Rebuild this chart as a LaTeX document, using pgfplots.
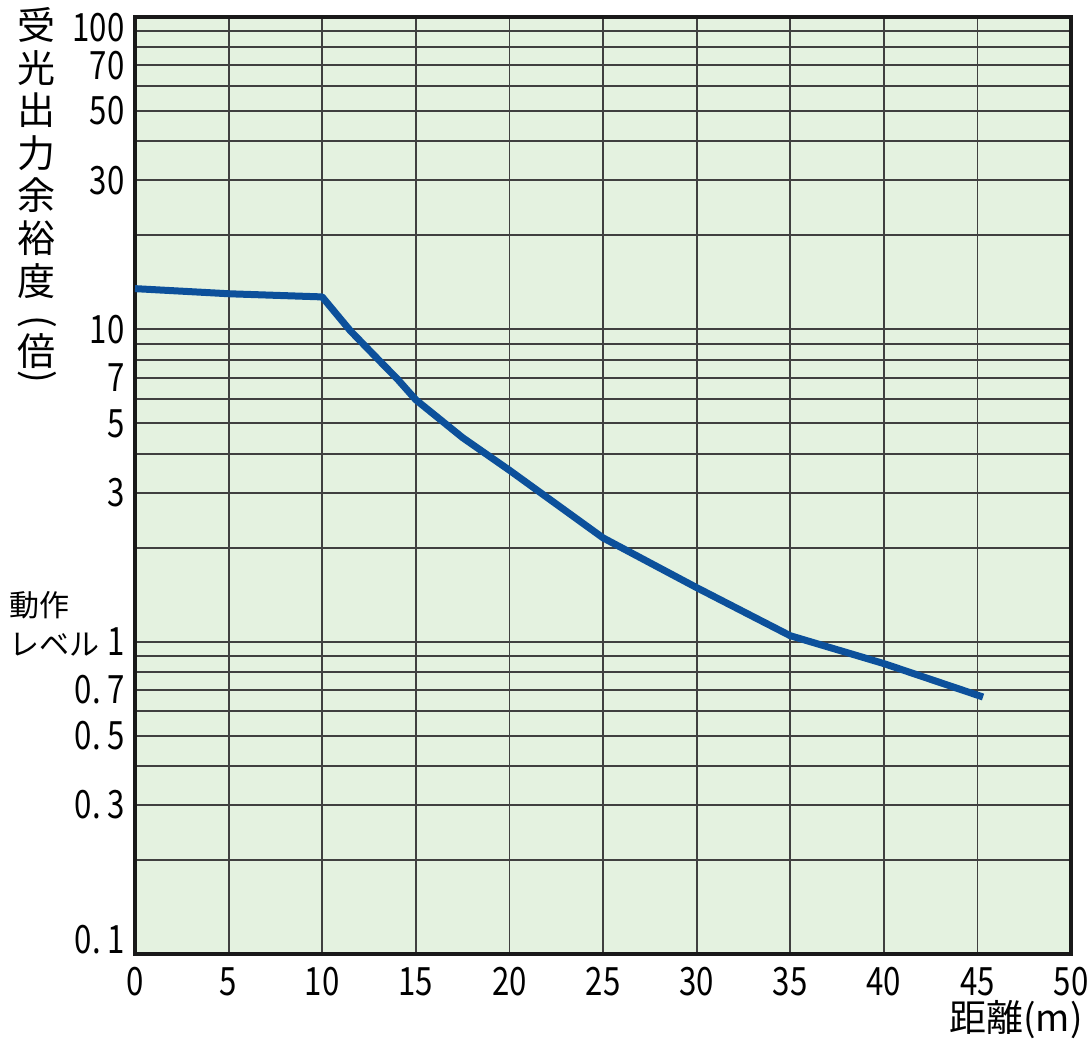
\documentclass[border=0pt]{standalone}
\usepackage{fontspec}
\setmainfont{Noto Sans CJK JP}
\newfontfamily\numfont{Noto Sans CJK JP}[FakeStretch=0.8]
\usepackage{pgfplots}
\pgfplotsset{compat=1.18}
\definecolor{bgg}{RGB}{228,242,224}
\definecolor{curve}{RGB}{12,80,155}
\begin{document}
\begin{tikzpicture}
\begin{axis}[
  name=ax,
  scale only axis, width=468pt, height=468.5pt,
  xmin=0, xmax=50, ymin=0.1, ymax=100, ymode=log,
  xtick={0,5,...,50},
  /pgf/number format/assume math mode=true,
  ytick={0.1,0.3,0.5,0.7,1,3,5,7,10,30,50,70,100},
  yticklabels={{\raisebox{7pt}[\height][\depth]{0.\,1}},{0.\,3},{0.\,5},{0.\,7},{\smash{\rlap{\raisebox{19.5pt}{\normalfont\fontsize{15}{16}\selectfont 動作}}}{\normalfont\fontsize{15}{16}\selectfont レベル}\hspace{4pt}1},3,5,7,10,30,50,70,{\raisebox{-5.5pt}[\height][\depth]{100}}},
  minor ytick={0.2,0.4,0.6,0.8,0.9,2,4,6,8,9,20,40,60,80,90},
  xmajorgrids, ymajorgrids, yminorgrids,
  major grid style={black!75, line width=0.9pt},
  minor grid style={black!75, line width=0.9pt},
  axis line style={black!90, line width=2pt},
  major tick length=0pt, minor tick length=0pt,
  axis background/.style={fill=bgg},
  tick label style={font=\fontsize{19.5}{20}\selectfont\numfont},
  yticklabel style={inner xsep=5pt},
  xticklabel style={inner ysep=6.5pt},
]
\addplot[curve, line width=3.5pt, line join=round, line cap=butt] coordinates {
  (0,13.5) (5,13.0) (10,12.7) (11.5,9.9) (13,8.0) (14,6.95) (15,5.95)
  (17.5,4.5) (20,3.54) (25,2.15) (30,1.49) (35,1.045) (40,0.851) (45.3,0.665)
};
\end{axis}
\node[anchor=north, inner sep=0pt, align=center, font=\fontsize{19}{21.3}\selectfont]
  at ([xshift=-49pt, yshift=473.5pt]ax.south west) {受\\光\\出\\力\\余\\裕\\度};
\node[inner sep=0pt, rotate=-90, font=\fontsize{19}{20}\selectfont] at ([xshift=-49pt, yshift=316pt]ax.south west) {(};
\node[inner sep=0pt, font=\fontsize{19}{20}\selectfont] at ([xshift=-49pt, yshift=301.5pt]ax.south west) {倍};
\node[inner sep=0pt, rotate=-90, font=\fontsize{19}{20}\selectfont] at ([xshift=-49pt, yshift=288.5pt]ax.south west) {)};
\node[anchor=east, inner sep=0pt, font=\fontsize{18.5}{20}\selectfont]
  at ([xshift=6pt, yshift=-33pt]ax.south east) {距離(m)};
\pgfresetboundingbox
\path[use as bounding box] ([xshift=-67.5pt,yshift=-45pt]ax.south west) rectangle ([xshift=477.5pt,yshift=477pt]ax.south west);
\end{tikzpicture}
\end{document}
